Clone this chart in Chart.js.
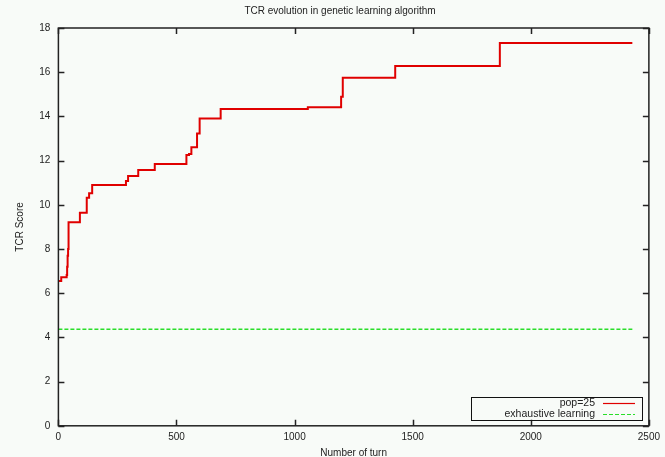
<!DOCTYPE html>
<html>
<head>
<meta charset="utf-8">
<script src="https://cdn.jsdelivr.net/npm/chart.js@4"></script>
<style>
  html, body { margin: 0; padding: 0; background: #f8fbf8; }
  #wrap { width: 665px; height: 457px; }
</style>
</head>
<body>
<div id="wrap"><canvas id="c" width="665" height="457"></canvas></div>
<script>
// ---- data ----
const chartTitle = 'TCR evolution in genetic learning algorithm';
const xAxisLabel = 'Number of turn';
const yAxisLabel = 'TCR Score';
const seriesNames = ['pop=25', 'exhaustive learning'];
// turns at which pop=25 best score changes, and the new score
const popTurns  = [0, 12, 35, 37, 39, 41, 43, 91, 120, 130, 143, 286, 295, 338, 408, 542, 553, 563, 587, 598, 687, 1056, 1197, 1204, 1426, 1869, 2430];
const popScores = [6.55, 6.72, 6.82, 7.2, 7.7, 8.0, 9.21, 9.64, 10.32, 10.52, 10.9, 11.08, 11.3, 11.57, 11.85, 12.25, 12.3, 12.6, 13.23, 13.9, 14.33, 14.41, 14.89, 15.75, 16.28, 17.32, 17.32];
const exhTurns  = [0, 2430];
const exhScores = [4.37, 4.37];
const xTicks = [0, 500, 1000, 1500, 2000, 2500];
const yTicks = [0, 2, 4, 6, 8, 10, 12, 14, 16, 18];
const seriesColors = ['#e00000', '#2ade2a'];

const FONT = 'Liberation Sans, Arial, Helvetica, sans-serif';
const TEXT = '#222';

const toPoints = (xs, ys) => xs.map((x, i) => ({ x: x, y: ys[i] }));

const framePlugin = {
  id: 'frame',
  beforeDraw(chart) {
    const ctx = chart.ctx;
    ctx.save();
    ctx.fillStyle = '#f8fbf8';
    ctx.fillRect(0, 0, chart.width, chart.height);
    ctx.restore();
  },
  afterDraw(chart) {
    const { ctx, chartArea: a, scales } = chart;
    ctx.save();
    // title
    ctx.font = '10px ' + FONT;
    ctx.fillStyle = TEXT;
    ctx.textAlign = 'center';
    ctx.textBaseline = 'middle';
    ctx.fillText(chartTitle, 340, 11.5);

    ctx.strokeStyle = '#222';
    ctx.lineWidth = 1.5;
    ctx.strokeRect(a.left, a.top, a.right - a.left, a.bottom - a.top);
    const tl = 6;
    ctx.beginPath();
    xTicks.forEach(v => {
      const px = Math.round(scales.x.getPixelForValue(v)) + 0.5;
      ctx.moveTo(px, a.bottom); ctx.lineTo(px, a.bottom - tl);
      ctx.moveTo(px, a.top); ctx.lineTo(px, a.top + tl);
    });
    yTicks.forEach(v => {
      const py = Math.round(scales.y.getPixelForValue(v)) + 0.5;
      ctx.moveTo(a.left, py); ctx.lineTo(a.left + tl, py);
      ctx.moveTo(a.right, py); ctx.lineTo(a.right - tl, py);
    });
    ctx.stroke();

    // legend box (bottom right inside plot)
    const bw = 171, bh = 23;
    const bx = Math.round(a.right - 7 - bw), by = Math.round(a.bottom - 6 - bh);
    ctx.lineWidth = 1;
    ctx.strokeStyle = '#111';
    ctx.strokeRect(bx + 0.5, by + 0.5, bw, bh);
    ctx.font = '10.5px ' + FONT;
    ctx.textAlign = 'right';
    ctx.textBaseline = 'middle';
    const textX = bx + 124, lx0 = bx + 132, lx1 = bx + 164;
    chart.data.datasets.forEach((ds, i) => {
      const yy = by + 6 + i * 11;
      ctx.fillStyle = TEXT;
      ctx.fillText(ds.label, textX, yy + 0.5);
      ctx.beginPath();
      ctx.strokeStyle = seriesColors[i];
      ctx.lineWidth = 1.2;
      ctx.setLineDash(i === 1 ? [4, 2] : []);
      ctx.moveTo(lx0, yy + 0.5);
      ctx.lineTo(lx1, yy + 0.5);
      ctx.stroke();
      ctx.setLineDash([]);
    });
    ctx.restore();
  }
};

new Chart(document.getElementById('c'), {
  type: 'line',
  data: {
    datasets: [
      {
        label: seriesNames[0],
        data: toPoints(popTurns, popScores),
        borderColor: seriesColors[0],
        borderWidth: 2,
        stepped: 'before',
        pointRadius: 0,
        fill: false
      },
      {
        label: seriesNames[1],
        data: toPoints(exhTurns, exhScores),
        borderColor: seriesColors[1],
        borderWidth: 1.5,
        borderDash: [4, 2],
        pointRadius: 0,
        fill: false
      }
    ]
  },
  options: {
    responsive: false,
    animation: false,
    devicePixelRatio: 1,
    layout: { padding: { left: 0, right: 14, top: 28, bottom: 0 } },
    plugins: {
      legend: { display: false },
      tooltip: { enabled: false },
      title: { display: false }
    },
    scales: {
      x: {
        type: 'linear',
        min: 0, max: 2500,
        afterBuildTicks: s => { s.ticks = xTicks.map(v => ({ value: v })); },
        afterFit: s => { s.height = 31.2; },
        grid: { display: false, drawTicks: false },
        border: { display: false },
        ticks: { color: TEXT, padding: 5, maxRotation: 0, font: { family: FONT, size: 10 }, callback: v => String(v) },
        title: {
          display: true, text: xAxisLabel, color: TEXT,
          font: { family: FONT, size: 10 },
          padding: { top: 0, bottom: -2 }
        }
      },
      y: {
        type: 'linear',
        min: 0, max: 18,
        afterBuildTicks: s => { s.ticks = yTicks.map(v => ({ value: v })); },
        afterFit: s => { s.width = 58.4; },
        grid: { display: false, drawTicks: false },
        border: { display: false },
        ticks: { color: TEXT, padding: 8, font: { family: FONT, size: 10 }, callback: v => String(v) },
        title: {
          display: true, text: yAxisLabel, color: TEXT,
          font: { family: FONT, size: 10 },
          padding: { top: 14, bottom: 0 }
        }
      }
    }
  },
  plugins: [framePlugin]
});
</script>
</body>
</html>
